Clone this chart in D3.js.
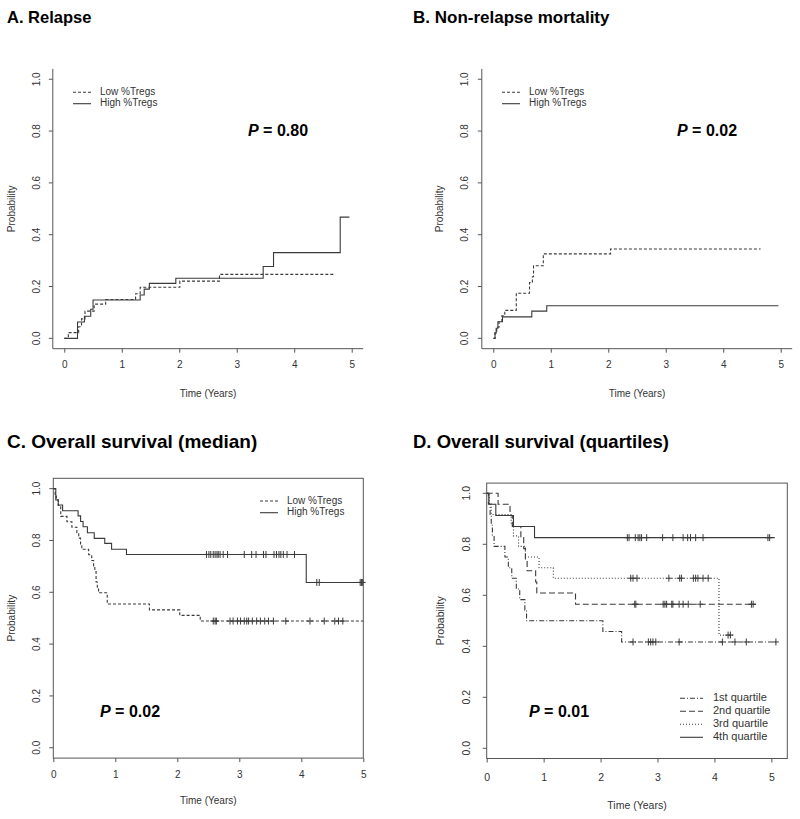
<!DOCTYPE html>
<html><head><meta charset="utf-8">
<script src="https://cdn.jsdelivr.net/npm/d3@7/dist/d3.min.js"></script>
<style>
html,body{margin:0;padding:0;background:#fff;}
svg{display:block;font-family:"Liberation Sans",Arial,sans-serif;}
</style></head>
<body>
<svg id="chart" width="800" height="819"></svg>
<script>
// ---------- DATA ----------
const xTicks = [0, 1, 2, 3, 4, 5];
const yTicks = [0, 0.2, 0.4, 0.6, 0.8, 1.0];
const yTickLabels = ["0.0", "0.2", "0.4", "0.6", "0.8", "1.0"];

// A. Relapse (cumulative incidence)
const relLowT  = [0, 0.07, 0.25, 0.30, 0.36, 0.52, 0.72, 1.24, 1.32, 2.01, 2.70];
const relLowP  = [0, 0.022, 0.045, 0.075, 0.105, 0.132, 0.150, 0.172, 0.197, 0.221, 0.247];
const relLowEnd = 4.68;
const relHighT = [0, 0.23, 0.35, 0.46, 0.50, 1.32, 1.39, 1.48, 1.94, 3.46, 3.64, 4.80];
const relHighP = [0, 0.063, 0.085, 0.112, 0.148, 0.167, 0.190, 0.212, 0.232, 0.277, 0.331, 0.468];
const relHighEnd = 4.96;

// B. Non-relapse mortality
const nrmLowT  = [0, 0.03, 0.06, 0.10, 0.15, 0.20, 0.40, 0.63, 0.68, 0.70, 0.87, 2.04];
const nrmLowP  = [0, 0.022, 0.043, 0.065, 0.087, 0.108, 0.174, 0.215, 0.238, 0.280, 0.326, 0.345];
const nrmLowEnd = 4.65;
const nrmHighT = [0.01, 0.03, 0.05, 0.08, 0.16, 0.67, 0.93];
const nrmHighP = [0, 0.020, 0.039, 0.064, 0.083, 0.105, 0.126];
const nrmHighEnd = 4.96;

// C. Overall survival (median)
const osLowT = [0, 0.03, 0.05, 0.08, 0.12, 0.22, 0.30, 0.38, 0.41, 0.44, 0.46, 0.57, 0.62, 0.65, 0.67, 0.69, 0.71, 0.73, 0.87, 1.55, 2.04, 2.37];
const osLowP = [1, 0.978, 0.957, 0.935, 0.893, 0.872, 0.851, 0.830, 0.809, 0.787, 0.766, 0.745, 0.723, 0.702, 0.680, 0.640, 0.617, 0.598, 0.555, 0.532, 0.511, 0.489];
const osLowEnd = 5.0;
const osLowCens = [2.58, 2.61, 2.63, 2.85, 2.90, 2.97, 3.02, 3.08, 3.12, 3.15, 3.21, 3.28, 3.34, 3.41, 3.47, 3.55, 3.75, 4.14, 4.37, 4.54, 4.60, 4.67];
const osHighT = [0, 0.04, 0.08, 0.15, 0.40, 0.44, 0.48, 0.55, 0.66, 0.83, 0.94, 1.18, 4.08];
const osHighP = [1, 0.956, 0.937, 0.915, 0.895, 0.873, 0.853, 0.830, 0.808, 0.789, 0.766, 0.746, 0.638];
const osHighEnd = 5.0;
const osHighCens = [2.47, 2.51, 2.54, 2.58, 2.61, 2.64, 2.66, 2.69, 2.74, 2.81, 3.08, 3.20, 3.27, 3.39, 3.43, 3.56, 3.60, 3.64, 3.67, 3.71, 3.77, 3.89, 4.25, 4.29, 4.95, 4.97, 4.99];

// D. Overall survival (quartiles)
const q1T = [0, 0.03, 0.06, 0.08, 0.10, 0.13, 0.32, 0.38, 0.44, 0.52, 0.58, 0.67, 0.70, 2.04, 2.37];
const q1P = [1, 0.958, 0.917, 0.875, 0.833, 0.792, 0.750, 0.708, 0.667, 0.625, 0.583, 0.542, 0.500, 0.458, 0.417];
const q1End = 5.10;
const q1Cens = [2.57, 2.84, 2.88, 2.92, 2.97, 3.38, 4.14, 4.36, 4.56, 5.08];
const q2T = [0, 0.20, 0.41, 0.45, 0.60, 0.65, 0.68, 0.71, 0.86, 0.88, 1.56];
const q2P = [1, 0.957, 0.913, 0.870, 0.826, 0.783, 0.739, 0.696, 0.652, 0.609, 0.565];
const q2End = 4.73;
const q2Cens = [2.60, 2.62, 3.10, 3.13, 3.16, 3.25, 3.27, 3.38, 3.45, 3.54, 3.75, 4.65, 4.68];
const q3T = [0, 0.04, 0.08, 0.43, 0.47, 0.56, 0.68, 0.92, 1.17, 4.08];
const q3P = [1, 0.958, 0.917, 0.875, 0.833, 0.792, 0.750, 0.708, 0.667, 0.444];
const q3End = 4.33;
const q3Cens = [2.53, 2.57, 2.64, 3.20, 3.39, 3.42, 3.63, 3.67, 3.71, 3.80, 3.89, 4.24, 4.28];
const q4T = [0, 0.04, 0.16, 0.47, 0.84];
const q4P = [1, 0.957, 0.913, 0.870, 0.826];
const q4End = 5.06;
const q4Cens = [2.47, 2.50, 2.61, 2.66, 2.69, 2.72, 2.81, 3.09, 3.27, 3.45, 3.53, 3.58, 3.67, 3.80, 4.94, 4.97];

const groupLabels2 = ["Low %Tregs", "High %Tregs"];
const groupLabels4 = ["1st quartile", "2nd quartile", "3rd quartile", "4th quartile"];

// ---------- DRAWING ----------
const svg = d3.select("#chart");
const LINE = "#3a3a3a", AX = "#555", TXT = "#333";
const DASH_LOW = "3,2";
const D_STYLES = ["5,2,1,2", "6,3", "1,2", null];

function stepPoints(T, P, end) {
  const pts = T.map((t, i) => [t, P[i]]);
  pts.push([end, P[P.length - 1]]);
  return pts;
}
function valueAt(T, P, t) {
  let v = P[0];
  for (let i = 0; i < T.length; i++) if (T[i] <= t) v = P[i];
  return v;
}

function panel(cfg) {
  const g = svg.append("g");
  const x = d3.scaleLinear().domain(cfg.xd).range(cfg.xr);
  const y = d3.scaleLinear().domain([-0.04, 1.04]).range(cfg.yr);
  const [x0, x1] = cfg.xr, [yb, yt] = cfg.yr;

  // box
  if (cfg.box) {
    g.append("rect").attr("x", x0).attr("y", yt).attr("width", x1 - x0).attr("height", yb - yt)
      .attr("fill", "none").attr("stroke", AX).attr("stroke-width", 1);
  } else {
    g.append("path").attr("d", `M${x0},${yt}V${yb}H${x1}`).attr("fill", "none").attr("stroke", AX);
  }
  // x axis
  const xa = g.append("g").attr("transform", `translate(0,${yb})`)
    .call(d3.axisBottom(x).tickValues(xTicks).tickSize(4).tickPadding(cfg.xpad).tickFormat(d3.format("d")));
  xa.select(".domain").remove();
  xa.selectAll("line").attr("stroke", AX);
  xa.selectAll("text").attr("fill", TXT).attr("font-size", cfg.tickFs + "px").attr("font-family", "Liberation Sans, Arial, sans-serif");
  // y axis
  const ya = g.append("g").attr("transform", `translate(${x0},0)`)
    .call(d3.axisLeft(y).tickValues(yTicks).tickSize(4).tickFormat((d, i) => yTickLabels[i]));
  ya.select(".domain").remove();
  ya.selectAll("line").attr("stroke", AX);
  ya.selectAll("text").attr("fill", TXT).attr("font-size", cfg.tickFs + "px")
    .attr("font-family", "Liberation Sans, Arial, sans-serif")
    .attr("text-anchor", "middle").attr("x", 0).attr("dy", 0)
    .attr("transform", d => `translate(${cfg.ylabX - x0},${y(d)}) rotate(-90)`)
    .attr("y", 0).attr("dominant-baseline", "middle");
  ya.selectAll(".tick").attr("transform", null);
  ya.selectAll(".tick line").attr("y1", d => y(d)).attr("y2", d => y(d));

  // axis titles
  g.append("text").attr("x", (x0 + x1) / 2).attr("y", cfg.xtY).attr("text-anchor", "middle")
    .attr("font-size", cfg.axFs + "px").attr("fill", TXT).text("Time (Years)");
  g.append("text").attr("transform", `translate(${cfg.ytX},${(yb + yt) / 2}) rotate(-90)`)
    .attr("text-anchor", "middle").attr("dominant-baseline", "middle")
    .attr("font-size", cfg.axFs + "px").attr("fill", TXT).text("Probability");

  // title
  g.append("text").attr("x", cfg.titleX).attr("y", cfg.titleY).attr("font-size", cfg.titleFs + "px")
    .attr("font-weight", "bold").attr("fill", "#000").text(cfg.title);

  // P value
  const pt = g.append("text").attr("x", cfg.pX).attr("y", cfg.pY).attr("font-size", "16px")
    .attr("font-weight", "bold").attr("fill", "#000");
  pt.append("tspan").attr("font-style", "italic").text("P");
  pt.append("tspan").text(" = " + cfg.pval);

  // curves
  const line = d3.line().x(d => x(d[0])).y(d => y(d[1])).curve(d3.curveStepAfter);
  cfg.series.forEach(s => {
    g.append("path").datum(stepPoints(s.T, s.P, s.end)).attr("d", line)
      .attr("fill", "none").attr("stroke", LINE).attr("stroke-width", 1.1)
      .attr("stroke-dasharray", s.dash);
    (s.cens || []).forEach(t => {
      const cx = x(t), cy = y(valueAt(s.T, s.P, t));
      g.append("path").attr("d", `M${cx},${cy - 3.5}V${cy + 3.5}M${cx - 3},${cy}H${cx + 3}`)
        .attr("stroke", LINE).attr("stroke-width", 1).attr("fill", "none");
    });
  });

  // legend
  const L = cfg.legend;
  cfg.series.forEach((s, i) => {
    const ly = L.y + i * L.dy;
    g.append("line").attr("x1", L.x1).attr("x2", L.x2).attr("y1", ly).attr("y2", ly)
      .attr("stroke", LINE).attr("stroke-width", 1.1).attr("stroke-dasharray", s.dash);
    g.append("text").attr("x", L.tx).attr("y", ly).attr("dominant-baseline", "middle")
      .attr("font-size", L.fs + "px").attr("fill", TXT).text(L.labels[i]);
  });
}

panel({
  title: "A. Relapse", titleX: 7, titleY: 23, titleFs: 16.5,
  xd: [-0.2, 5.2], xr: [52.8, 363.2], yr: [348.7, 68.9], box: false,
  xpad: 8, tickFs: 10, axFs: 10, ylabX: 37, xtY: 397, ytX: 12,
  pX: 248, pY: 136, pval: "0.80",
  legend: { x1: 73, x2: 91, tx: 100, y: 92.3, dy: 11.4, fs: 10, labels: groupLabels2 },
  series: [
    { T: relLowT, P: relLowP, end: relLowEnd, dash: DASH_LOW },
    { T: relHighT, P: relHighP, end: relHighEnd, dash: null }
  ]
});

panel({
  title: "B. Non-relapse mortality", titleX: 413, titleY: 23, titleFs: 17,
  xd: [-0.2, 5.2], xr: [481.8, 792.2], yr: [348.7, 68.9], box: false,
  xpad: 8, tickFs: 10, axFs: 10, ylabX: 465, xtY: 397, ytX: 440,
  pX: 677, pY: 136, pval: "0.02",
  legend: { x1: 502, x2: 520, tx: 529, y: 92.3, dy: 11.4, fs: 10, labels: groupLabels2 },
  series: [
    { T: nrmLowT, P: nrmLowP, end: nrmLowEnd, dash: DASH_LOW },
    { T: nrmHighT, P: nrmHighP, end: nrmHighEnd, dash: null }
  ]
});

panel({
  title: "C. Overall survival (median)", titleX: 7, titleY: 448, titleFs: 19,
  xd: [0, 5], xr: [53.3, 363.3], yr: [758.1, 478.3], box: true,
  xpad: 9, tickFs: 10, axFs: 10, ylabX: 37, xtY: 804, ytX: 12,
  pX: 100, pY: 717, pval: "0.02",
  legend: { x1: 260, x2: 278, tx: 287, y: 501, dy: 11.7, fs: 10, labels: groupLabels2 },
  series: [
    { T: osLowT, P: osLowP, end: osLowEnd, dash: DASH_LOW, cens: osLowCens },
    { T: osHighT, P: osHighP, end: osHighEnd, dash: null, cens: osHighCens }
  ]
});

panel({
  title: "D. Overall survival (quartiles)", titleX: 413, titleY: 448, titleFs: 18.5,
  xd: [0, 5.28], xr: [486.7, 787.3], yr: [758.5, 483.1], box: true,
  xpad: 11, tickFs: 10.5, axFs: 10.5, ylabX: 467, xtY: 809, ytX: 441,
  pX: 529, pY: 717, pval: "0.01",
  legend: { x1: 680, x2: 703, tx: 713, y: 698.3, dy: 13, fs: 11, labels: groupLabels4 },
  series: [
    { T: q1T, P: q1P, end: q1End, dash: D_STYLES[0], cens: q1Cens },
    { T: q2T, P: q2P, end: q2End, dash: D_STYLES[1], cens: q2Cens },
    { T: q3T, P: q3P, end: q3End, dash: D_STYLES[2], cens: q3Cens },
    { T: q4T, P: q4P, end: q4End, dash: D_STYLES[3], cens: q4Cens }
  ]
});
</script>
</body></html>
